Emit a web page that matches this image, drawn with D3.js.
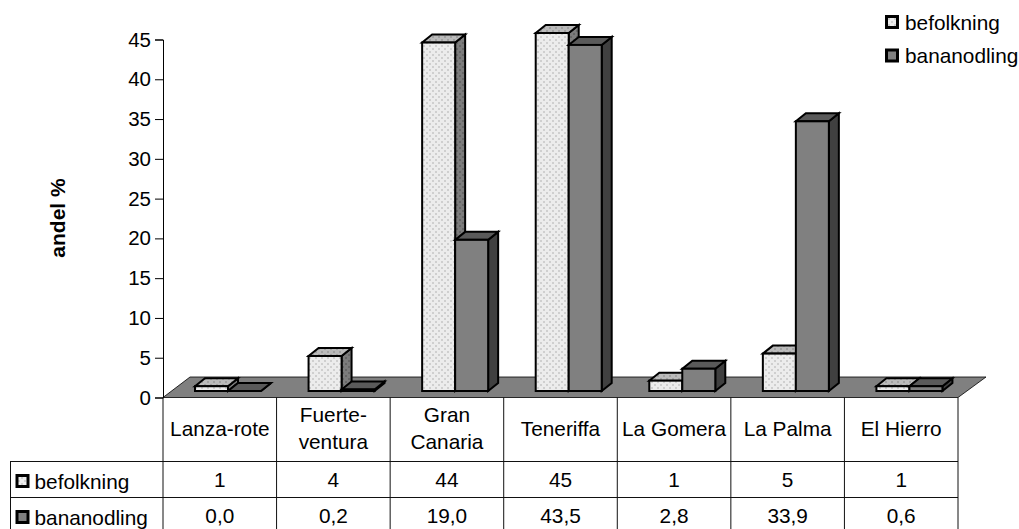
<!DOCTYPE html>
<html><head><meta charset="utf-8">
<script src="https://cdn.jsdelivr.net/npm/d3@7/dist/d3.min.js"></script>
<style>html,body{margin:0;padding:0;background:#fff}svg{display:block}text{font-family:"Liberation Sans",Arial,sans-serif;fill:#000}</style>
</head><body><svg id="c" width="1019" height="529"></svg>
<script>
const categories=[["Lanza-rote"],["Fuerte-","ventura"],["Gran","Canaria"],["Teneriffa"],["La Gomera"],["La Palma"],["El Hierro"]];
const seriesNames=["befolkning","bananodling"];
const befolkning=[0.6,4.4,43.8,45,1.3,4.7,0.6];
const bananodling=[0.0,0.2,19.0,43.5,2.8,33.9,0.6];
const befolkningLabels=["1","4","44","45","1","5","1"];
const bananodlingLabels=["0,0","0,2","19,0","43,5","2,8","33,9","0,6"];
const yTicks=[0,5,10,15,20,25,30,35,40,45];

const svg=d3.select("#c");
const defs=svg.append("defs");
function pat(id,bg,fg){
  const p=defs.append("pattern").attr("id",id).attr("width",6).attr("height",6).attr("patternUnits","userSpaceOnUse");
  p.append("rect").attr("width",6).attr("height",6).attr("fill",bg);
  p.append("rect").attr("x",0).attr("y",0).attr("width",2).attr("height",2).attr("fill",fg);
  p.append("rect").attr("x",3).attr("y",3).attr("width",2).attr("height",2).attr("fill",fg);
}
pat("pf","#ececec","#cfcfcf");pat("pt","#bababa","#a0a0a0");pat("ps","#7c7c7c","#666666");

const x0=163,x1=958,yZero=397.5,yTop=39.5;
const x=d3.scaleBand().domain(d3.range(categories.length)).range([x0,x1]);
const y=d3.scaleLinear().domain([0,45]).range([yZero,yTop]);
const barW=33,dx=10,dy=8,base=y(0)-6.5,inset=32;
const h=v=>y(0)-y(v);
const FS=20.8;

// floor
svg.append("path").attr("fill","#808080").attr("stroke","#000").attr("stroke-width",.8)
 .attr("d",`M${x0},${yZero}L${x0+27},${yZero-20.5}L${x1+28},${yZero-20.5}L${x1},${yZero}Z`);

const styles=[{front:"url(#pf)",top:"url(#pt)",side:"url(#ps)"},{front:"#808080",top:"#5a5a5a",side:"#404040"}];
const sw=2;
categories.forEach((c,i)=>{
  [befolkning,bananodling].forEach((vals,s)=>{
    const L=x(i)+inset+s*barW,R=L+barW,T=base-h(vals[i]),st=styles[s];
    const g=svg.append("g").attr("stroke","#000").attr("stroke-width",sw).attr("stroke-linejoin","miter");
    g.append("path").attr("fill",st.side).attr("d",`M${R},${base}L${R+dx},${base-dy}L${R+dx},${T-dy}L${R},${T}Z`);
    g.append("path").attr("fill",st.top).attr("d",`M${L},${T}L${L+dx},${T-dy}L${R+dx},${T-dy}L${R},${T}Z`);
    g.append("rect").attr("x",L).attr("y",T).attr("width",barW).attr("height",base-T).attr("fill",st.front);
  });
});

// y axis
const ax=svg.append("g").attr("transform",`translate(${x0},0)`)
 .call(d3.axisLeft(y).tickValues(yTicks).tickSize(8).tickPadding(4).tickFormat(d3.format("d")));
ax.selectAll("path,line").attr("stroke","#000").attr("stroke-width",1);
ax.selectAll("text").attr("font-size",20.5).attr("font-family",'"Liberation Sans",Arial,sans-serif').attr("fill","#000");

svg.append("text").attr("transform","translate(65,218) rotate(-90)").attr("text-anchor","middle")
 .attr("font-size",21).attr("font-weight","bold").text("andel %");

// data table
const r0=yZero,r1=461.5,r2=497.5,r3=530,tl=10;
const tg=svg.append("g").attr("stroke","#111").attr("stroke-width",1);
tg.append("line").attr("x1",tl).attr("x2",x1).attr("y1",r1).attr("y2",r1);
tg.append("line").attr("x1",tl).attr("x2",x1).attr("y1",r2).attr("y2",r2);
tg.append("line").attr("x1",tl+.5).attr("x2",tl+.5).attr("y1",r1).attr("y2",r3);
d3.range(categories.length+1).forEach(i=>{
  const X=x0+i*x.bandwidth();
  tg.append("line").attr("x1",X).attr("x2",X).attr("y1",r0).attr("y2",r3);
});
categories.forEach((c,i)=>{
  const cx=x(i)+x.bandwidth()/2;
  const t=svg.append("text").attr("text-anchor","middle").attr("font-size",FS);
  const ys=c.length===1?[436]:[422,449];
  c.forEach((line,k)=>t.append("tspan").attr("x",cx).attr("y",ys[k]).text(line));
  svg.append("text").attr("x",cx).attr("y",487).attr("text-anchor","middle").attr("font-size",FS).text(befolkningLabels[i]);
  svg.append("text").attr("x",cx).attr("y",523).attr("text-anchor","middle").attr("font-size",FS).text(bananodlingLabels[i]);
});

function key(xp,yc,s,textX){
  svg.append("rect").attr("x",xp).attr("y",yc-5.5).attr("width",11).attr("height",11)
   .attr("fill",styles[s].front).attr("stroke","#000").attr("stroke-width",3);
  svg.append("text").attr("x",textX).attr("y",yc+7.5).attr("font-size",FS).text(seriesNames[s]);
}
key(17,481,0,34.5);key(17,517,1,34.5);
key(886.5,22,0,905);key(886.5,55.5,1,905);
</script></body></html>
